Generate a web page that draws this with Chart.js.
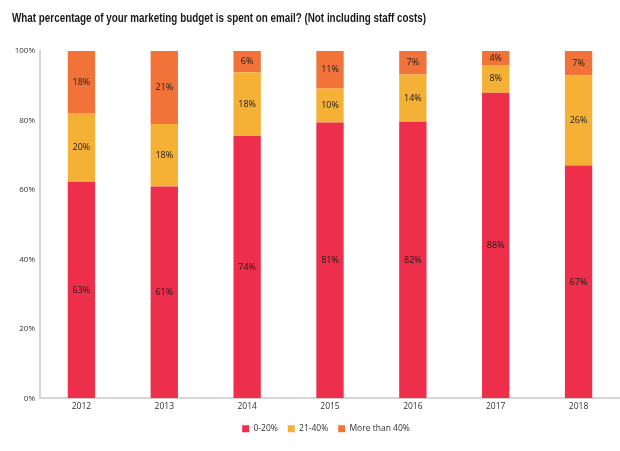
<!DOCTYPE html>
<html>
<head>
<meta charset="utf-8">
<script src="https://cdn.jsdelivr.net/npm/chart.js@4.4.1/dist/chart.umd.min.js"></script>
<style>
  html, body { margin:0; padding:0; background:#fff; }
  #wrap { width:620px; height:451px; position:relative; }
</style>
</head>
<body>
<div id="wrap"><canvas id="budgetChart"></canvas></div>
<script>
// survey answers, as printed on the bars (some years don't add up to exactly 100)
const years      = ['2012','2013','2014','2015','2016','2017','2018'];
const lowShare   = [63, 61, 74, 81, 82, 88, 67];   // 0-20%
const midShare   = [20, 18, 18, 10, 14,  8, 26];   // 21-40%
const highShare  = [18, 21,  6, 11,  7,  4,  7];   // More than 40%
const yTicks     = [0, 20, 40, 60, 80, 100];
const TITLE = 'What percentage of your marketing budget is spent on email? (Not including staff costs)';

const RED = '#ee2f4b', YELLOW = '#f5b036', ORANGE = '#f2733a';

// bars are drawn as a 100% stack, labels keep the printed figure
const totals = years.map((_, i) => lowShare[i] + midShare[i] + highShare[i]);
const asPct = arr => arr.map((v, i) => v / totals[i] * 100);

// title drawn by hand so it can be squeezed like the condensed original
const titlePlugin = {
  id: 'squeezedTitle',
  afterLayout(chart) {
    // legend in the original sits centred under the plot area, not the canvas
    chart.legend.left += 16;
    chart.legend.right += 16;
  },
  afterDraw(chart) {
    const { ctx } = chart;
    ctx.save();
    ctx.font = 'bold 13px "Liberation Sans", Arial, sans-serif';
    ctx.fillStyle = '#1a1a1a';
    ctx.textAlign = 'left';
    ctx.textBaseline = 'middle';
    ctx.fillText(TITLE, 12, 18, 414);
    ctx.restore();
  }
};

const barLabels = {
  id: 'barLabels',
  afterDatasetsDraw(chart) {
    const { ctx } = chart;
    ctx.save();
    ctx.font = '9px "Open Sans", sans-serif';
    ctx.fillStyle = '#1a1a1a';
    ctx.textAlign = 'center';
    ctx.textBaseline = 'middle';
    chart.data.datasets.forEach((ds, di) => {
      chart.getDatasetMeta(di).data.forEach((bar, i) => {
        const mid = (bar.y + bar.base) / 2;
        ctx.fillText(ds.raw[i] + '%', bar.x, mid);
      });
    });
    ctx.restore();
  }
};

new Chart(document.getElementById('budgetChart'), {
  type: 'bar',
  data: {
    labels: years,
    datasets: [
      { label:'0-20%',         data: asPct(lowShare),  raw: lowShare,  backgroundColor: RED },
      { label:'21-40%',        data: asPct(midShare),  raw: midShare,  backgroundColor: YELLOW },
      { label:'More than 40%', data: asPct(highShare), raw: highShare, backgroundColor: ORANGE },
    ]
  },
  options: {
    responsive:true, maintainAspectRatio:false, animation:false,
    layout:{ padding:{ left:0, right:0, top:51, bottom:8 } },
    datasets:{ bar:{ barPercentage:0.33, categoryPercentage:1 } },
    plugins:{
      title:{ display:false },
      legend:{
        position:'bottom',
        labels:{ boxWidth:7, boxHeight:7, padding:10, color:'#333', font:{ family:'"Open Sans", sans-serif', size:8.5 } }
      },
      tooltip:{ enabled:false }
    },
    scales:{
      x:{
        stacked:true,
        grid:{ display:false, drawTicks:false },
        border:{ color:'#d6d6d6', width:2 },
        ticks:{ color:'#333', font:{ family:'"Open Sans", sans-serif', size:8.5 }, padding:3 }
      },
      y:{
        stacked:true, min:0, max:100,
        afterBuildTicks: s => { s.ticks = yTicks.map(v => ({ value:v })); },
        afterFit: s => { s.width = 40; },
        grid:{ display:false, drawTicks:false },
        border:{ color:'#d6d6d6', width:2 },
        ticks:{ color:'#333', font:{ family:'"Open Sans", sans-serif', size:8 }, padding:5, callback: v => v + '%' }
      }
    }
  },
  plugins:[barLabels, titlePlugin]
});
</script>
</body>
</html>
